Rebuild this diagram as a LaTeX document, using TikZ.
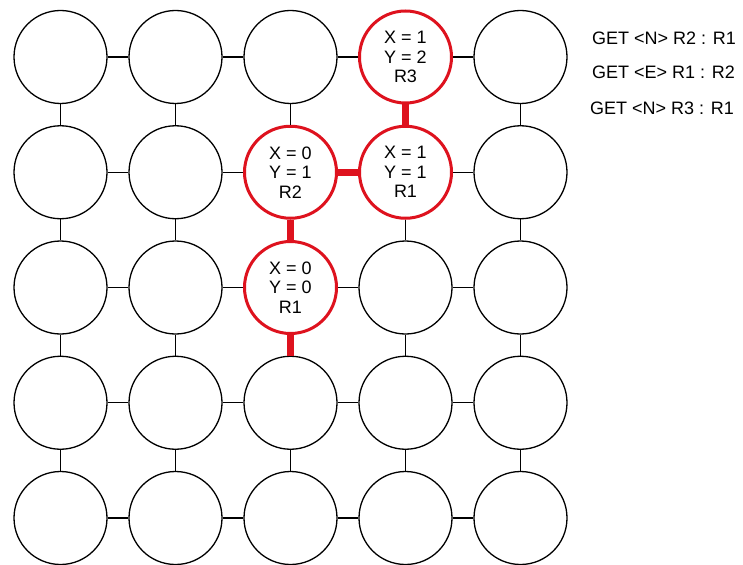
\documentclass[tikz,border=0pt]{standalone}
\usepackage{fontspec}
\setmainfont{Liberation Sans}
\definecolor{hotred}{RGB}{222,18,30}
\tikzset{
  cell/.style={circle, draw, fill=white, line width=1.3pt, minimum size=93pt, inner sep=0pt,
    align=center, font=\fontsize{18}{19.5}\selectfont},
  hot/.style={draw=hotred, line width=3pt, minimum size=92pt},
  link/.style={line width=1.3pt},
  hotlink/.style={draw=hotred, line width=7pt},
  msg/.style={anchor=west, inner sep=0pt, font=\fontsize{18}{20}\selectfont},
  % highlighted routers
  c-3-0/.style={hot}, c-2-1/.style={hot}, c-3-1/.style={hot}, c-2-2/.style={hot}
}
\expandafter\def\csname lbl-3-0\endcsname{X = 1\\Y = 2\\R3}
\expandafter\def\csname lbl-2-1\endcsname{X = 0\\Y = 1\\R2}
\expandafter\def\csname lbl-3-1\endcsname{X = 1\\Y = 1\\R1}
\expandafter\def\csname lbl-2-2\endcsname{X = 0\\Y = 0\\R1}
\begin{document}
\begin{tikzpicture}[x=1pt, y=-1pt]
    \useasboundingbox (0,0) rectangle (743,564);

    % grid of routers
    \foreach \i in {0,...,4}
      \foreach \j in {0,...,4}
        \node[cell, c-\i-\j/.try] (n-\i-\j) at (60.5+115*\i, 57+115.25*\j)
          {\csname lbl-\i-\j\endcsname};

    % links
    \foreach \i [count=\k] in {0,...,3}
      \foreach \j in {0,...,4} {
        \draw[link] (n-\i-\j) -- (n-\k-\j);
        \draw[link] (n-\j-\i) -- (n-\j-\k);
      }

    % path of the request
    \draw[hotlink] (n-3-0) -- (n-3-1);
    \draw[hotlink] (n-2-1) -- (n-3-1);
    \draw[hotlink] (n-2-1) -- (n-2-2);
    \draw[hotlink] (n-2-2) -- (n-2-3);

    % messages
    \node[msg] (m1) at (592,38) {GET <N> R2 : R1};
    \node[msg] (m2) at (592,72) {GET <E> R1 : R2};
    \node[msg] (m3) at (590,108) {GET <N> R3 : R1};
\end{tikzpicture}
\end{document}
